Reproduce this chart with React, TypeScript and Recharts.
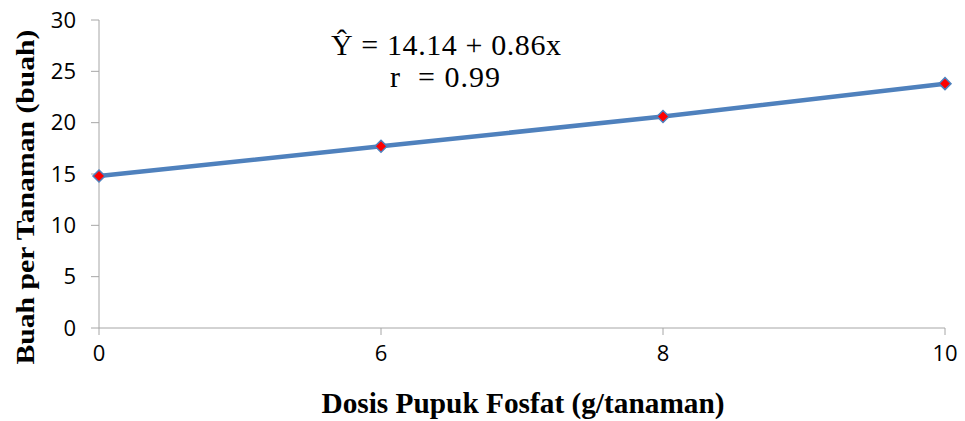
import React from "react";
import { LineChart, Line, XAxis, YAxis, Customized } from "recharts";

const doses = ["0", "6", "8", "10"];
const fruitsPerPlant = [14.8, 17.7, 20.6, 23.8];
const yTicks = [0, 5, 10, 15, 20, 25, 30];
const equationText = "\u0176 = 14.14 + 0.86x";
const rText = "r \u00A0= 0.99";
const xTitle = "Dosis Pupuk Fosfat (g/tanaman)";
const yTitle = "Buah per Tanaman (buah)";

const data = doses.map((d, i) => ({ dose: d, value: fruitsPerPlant[i] }));

const Diamond = (props: any) => {
  const { cx, cy, index } = props;
  if (cx == null || cy == null) return null;
  const s = 6;
  return (
    <polygon
      key={`d-${index}`}
      points={`${cx},${cy - s} ${cx + s},${cy} ${cx},${cy + s} ${cx - s},${cy}`}
      fill="#FF0000"
      stroke="#4F81BD"
      strokeWidth={1.5}
    />
  );
};

const Texts = () => (
  <g>
    <text
      x={446}
      y={55}
      textAnchor="middle"
      fontFamily="'Liberation Serif', serif"
      fontSize={30}
      fill="#000"
      textLength={230}
      lengthAdjust="spacing"
    >
      {equationText}
    </text>
    <text
      x={445}
      y={87}
      textAnchor="middle"
      fontFamily="'Liberation Serif', serif"
      fontSize={30}
      fill="#000"
      textLength={110}
      lengthAdjust="spacing"
    >
      {rText}
    </text>
    <text
      x={523}
      y={413}
      textAnchor="middle"
      fontFamily="'Liberation Serif', serif"
      fontWeight="bold"
      fontSize={30}
      fill="#000"
      textLength={403}
      lengthAdjust="spacingAndGlyphs"
    >
      {xTitle}
    </text>
    <text
      x={0}
      y={0}
      transform="translate(34,197) rotate(-90)"
      textAnchor="middle"
      fontFamily="'Liberation Serif', serif"
      fontWeight="bold"
      fontSize={26}
      fill="#000"
      textLength={335}
      lengthAdjust="spacingAndGlyphs"
    >
      {yTitle}
    </text>
  </g>
);

export default function App() {
  return (
    <div style={{ position: "absolute", left: 0, top: 0, width: 965, height: 421, background: "#fff" }}>
      <LineChart width={965} height={421} data={data} margin={{ top: 20, right: 20, left: 39, bottom: 63 }}>
        <XAxis
          dataKey="dose"
          type="category"
          stroke="#A6A6A6"
          tickSize={7}
          tickMargin={10}
          tick={{ fill: "#000", fontSize: 22, fontFamily: "'Open Sans', sans-serif" }}
          height={30}
          interval={0}
        />
        <YAxis
          domain={[0, 30]}
          ticks={yTicks}
          stroke="#A6A6A6"
          tickSize={8}
          tickMargin={15}
          width={60}
          interval={0}
          tick={{ fill: "#000", fontSize: 22, fontFamily: "'Open Sans', sans-serif" }}
        />
        <Line
          dataKey="value"
          stroke="#4F81BD"
          strokeWidth={4.5}
          isAnimationActive={false}
          dot={Diamond}
          activeDot={false}
        />
        <Customized component={Texts} />
      </LineChart>
    </div>
  );
}
